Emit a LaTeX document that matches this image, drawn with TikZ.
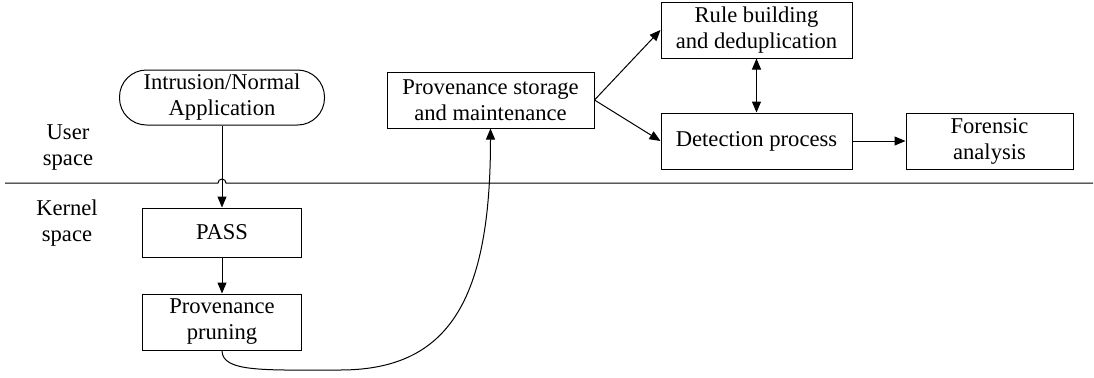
\documentclass[tikz,border=0pt]{standalone}
\usepackage{fontspec}
\setmainfont{Liberation Serif}
\usepackage{tikz}
\usetikzlibrary{arrows.meta}
\usetikzlibrary{positioning}
\usetikzlibrary{calc}
\tikzstyle{box}=[rectangle,draw,align=center,inner sep=0pt,minimum height=28pt,line width=0.5pt]
\tikzstyle{ovalbox}=[rectangle,draw,align=center,inner sep=0pt,rounded corners=13.5pt,line width=0.5pt]
\tikzstyle{arrowedge} = [draw,line width=0.5pt,-{Triangle[length=5.5pt,width=4.5pt]}]
\tikzstyle{bothedge} = [draw,line width=0.5pt,{Triangle[length=5.5pt,width=4.5pt]}-{Triangle[length=5.5pt,width=4.5pt]}]
\tikzstyle{spacelabel} = [align=center,inner sep=0pt]

\begin{document}
\begin{tikzpicture}[x=0.5pt,y=-0.5pt,font=\rmfamily\fontsize{11.3}{13}\selectfont]

	\useasboundingbox (0,0) rectangle (1094,377);

%user space
	\node[ovalbox,minimum width=102.5pt,minimum height=27.5pt] (app) at (222,97.5) {Intrusion/Normal\\Application};
    \foreach \pos/\name/\w/\label in {{(490.5,100)/store/207/Provenance storage\\and maintenance}, {(756.5,30)/rule/191/Rule building\\and deduplication}, {(756.5,141)/detect/191/Detection process}, {(989.5,141)/foren/167/Forensic\\analysis}}
        \node[box,minimum width=\w*0.5pt] (\name) at \pos {\label};
%kernel space
    \node[box,minimum width=79.5pt,minimum height=24.5pt] (pass) at (222,232.5) {PASS};
    \node[box,minimum width=79.5pt] (prune) at (222,322) {Provenance\\pruning};

%labels
    \node[spacelabel] (user) at (68,147) {User\\space};
    \node[spacelabel] (kernel) at (67,223) {Kernel\\space};

%border with hop
    \coordinate (lineL) at (5,183);
    \coordinate (lineR) at (1093,183);
    \coordinate (hopL) at (218,183);
    \draw[line width=0.5pt] (lineL) -- (hopL) arc[start angle=180,end angle=360,radius=4] -- (lineR);

    % Connect boxes
	\foreach \source/ \dest in {app/pass, pass/prune, store.east/rule.west, store.east/detect.west, detect/foren}
		\path[arrowedge] (\source) -- (\dest);
	\path[bothedge] (rule) -- (detect);

	% pruning back up to storage
	\coordinate (dip) at (340,370);
	\path[arrowedge] (prune.south) .. controls +(0,22) and +(-75,0) .. (dip) .. controls +(110,0) and +(0,170) .. (store.south);

\end{tikzpicture}
\end{document}
